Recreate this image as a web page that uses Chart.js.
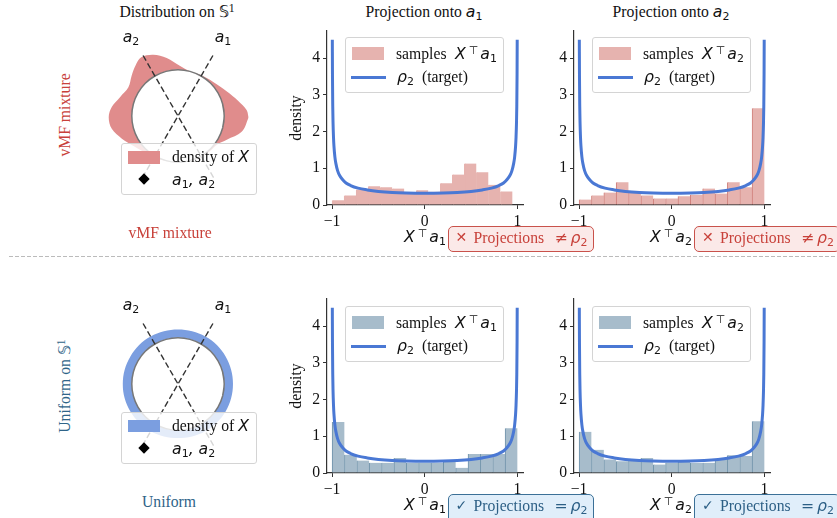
<!DOCTYPE html>
<html>
<head>
<meta charset="utf-8">
<script src="https://cdn.jsdelivr.net/npm/chart.js@4"></script>
<style>
  html, body { margin: 0; padding: 0; background: #fff; }
  #page { position: relative; width: 837px; height: 518px; overflow: hidden; font-family: "Liberation Serif", serif; font-size: 15.7px; color: #111; }
  #page canvas { position: absolute; }
  .t { position: absolute; white-space: nowrap; line-height: 1; }
  .c { transform: translateX(-50%); }
  .v { transform: translate(-50%, -50%) rotate(-90deg); }
  .m { font-family: "DejaVu Sans", sans-serif; font-style: italic; }
  .m sub { font-size: 70%; font-style: normal; vertical-align: -0.25em; line-height: 0; }
  .m sup { font-size: 70%; font-style: normal; vertical-align: 0.42em; line-height: 0; margin: 0 2px 0 3px; }
  .box { position: absolute; box-sizing: border-box; background: rgba(255,255,255,0.8); border: 1px solid #d4d4d4; border-radius: 3px; }
  .note { position: absolute; box-sizing: border-box; border-radius: 5px; border: 1px solid; white-space: nowrap; line-height: 21px; }
  .note span { position: absolute; top: 0; }
  .note.bad { background: #fbe9e8; border-color: #c9524b; color: #c8413a; }
  .note.good { background: #e0eefa; border-color: #3b7097; color: #2c5f85; }
  .swatch { position: absolute; }
  #sep { position: absolute; left: 9px; top: 256px; width: 828px; height: 1px; background: repeating-linear-gradient(90deg, #bbb 0 4px, transparent 4px 6px); }
</style>
</head>
<body>
<div id="page"></div>
<script>
// histogram heights, 15 bins per panel
const vmfA1 = [0.13, 0.26, 0.42, 0.51, 0.48, 0.45, 0.34, 0.40, 0.36, 0.59, 0.83, 1.13, 0.89, 0.55, 0.37];
const vmfA2 = [0.15, 0.26, 0.34, 0.62, 0.33, 0.26, 0.18, 0.18, 0.24, 0.28, 0.45, 0.31, 0.62, 0.48, 2.63];
const uniA1 = [1.39, 0.50, 0.34, 0.28, 0.28, 0.41, 0.28, 0.28, 0.28, 0.30, 0.14, 0.52, 0.52, 0.52, 1.22];
const uniA2 = [1.12, 0.63, 0.37, 0.32, 0.34, 0.41, 0.23, 0.28, 0.30, 0.27, 0.28, 0.37, 0.48, 0.46, 1.41];
// sample range of each histogram
const vmfA1Range = [-1, 0.946];
const fullRange = [-1, 1];

// target density curve
const rhoX = [-0.9975, -0.996, -0.993, -0.99, -0.985, -0.98, -0.97, -0.96, -0.94, -0.92, -0.89, -0.85, -0.8, -0.72, -0.62, -0.5, -0.35, -0.2, 0, 0.2, 0.35, 0.5, 0.62, 0.72, 0.8, 0.85, 0.89, 0.92, 0.94, 0.96, 0.97, 0.98, 0.985, 0.99, 0.993, 0.996, 0.9975];
const rhoY = [4.5, 3.56, 2.69, 2.26, 1.85, 1.6, 1.31, 1.14, 0.93, 0.81, 0.7, 0.6, 0.53, 0.46, 0.41, 0.37, 0.34, 0.325, 0.318, 0.325, 0.34, 0.37, 0.41, 0.46, 0.53, 0.6, 0.7, 0.81, 0.93, 1.14, 1.31, 1.6, 1.85, 2.26, 2.69, 3.56, 4.5];

const xTickValues = [-1, 0, 1];
const yTickValues = [0, 1, 2, 3, 4];

// polar outline of the density on the circle (degrees, radius in circle units)
const blobAngles = [0, 5, 14, 27, 44, 62, 75, 88, 101, 112, 122, 130, 139, 150, 162, 172, 181, 191, 202, 214, 225, 240, 255, 270, 285, 300, 315, 324, 334, 346, 358];
const blobRadii = [1.52, 1.49, 1.345, 1.18, 1.06, 1.015, 1.005, 1.09, 1.28, 1.43, 1.5, 1.43, 1.33, 1.24, 1.32, 1.445, 1.5, 1.46, 1.31, 1.16, 1.08, 1.03, 1.01, 1.005, 1.01, 1.02, 1.03, 1.05, 1.175, 1.42, 1.52];
const ringAngles = [0, 15, 30, 45, 60, 75, 90, 105, 120, 135, 150, 165, 180, 195, 210, 225, 240, 255, 270, 285, 300, 315, 330, 345];
const ringRadii = [1.19, 1.19, 1.19, 1.19, 1.185, 1.18, 1.18, 1.18, 1.185, 1.19, 1.19, 1.195, 1.195, 1.195, 1.19, 1.185, 1.18, 1.175, 1.17, 1.175, 1.18, 1.185, 1.19, 1.19];
const circleAngles = [0, 15, 30, 45, 60, 75, 90, 105, 120, 135, 150, 165, 180, 195, 210, 225, 240, 255, 270, 285, 300, 315, 330, 345];
const circleRadii = [1, 1, 1, 1, 1, 1, 1, 1, 1, 1, 1, 1, 1, 1, 1, 1, 1, 1, 1, 1, 1, 1, 1, 1];
const lineAngles = [60, 120];
const lineLength = 1.54;

const page = document.getElementById("page");
const SERIF = "Liberation Serif";
const BLUE = "#4a78d4";

function addText(html, x, y, cls, color) {
  const el = document.createElement("div");
  el.className = "t " + (cls || "");
  el.style.left = x + "px";
  el.style.top = y + "px";
  if (color) el.style.color = color;
  el.innerHTML = html;
  page.appendChild(el);
  return el;
}

function addCanvas(x, y, w, h) {
  const c = document.createElement("canvas");
  c.width = w;
  c.height = h;
  c.style.left = x + "px";
  c.style.top = y + "px";
  page.appendChild(c);
  return c;
}

// closed outline; overlaps two points so the spline has no kink at the seam
function polar(angles, radii) {
  const pts = angles.map((a, i) => ({
    x: radii[i] * Math.cos((a * Math.PI) / 180),
    y: radii[i] * Math.sin((a * Math.PI) / 180),
  }));
  return [pts[pts.length - 1], ...pts, pts[0], pts[1]];
}

function binCentres(range, n) {
  const w = (range[1] - range[0]) / n;
  return Array.from({ length: n }, (_, i) => range[0] + (i + 0.5) * w);
}

// one histogram panel: axL/axT is the top left of the plot area
function histPanel(axL, axT, values, range, fill, edge, showTitle) {
  const centres = binCentres(range, values.length);
  new Chart(addCanvas(axL - 40, axT - 6, 240, 212), {
    data: {
      datasets: [
        {
          type: "line",
          order: 1,
          data: rhoX.map((x, i) => ({ x: x, y: rhoY[i] })),
          borderColor: BLUE,
          borderWidth: 3,
          pointRadius: 0,
          fill: false,
          cubicInterpolationMode: "monotone",
        },
        {
          type: "bar",
          order: 2,
          data: values.map((v, i) => ({ x: centres[i], y: v })),
          backgroundColor: fill,
          borderColor: edge,
          borderWidth: { left: 1, right: 0, top: 0, bottom: 0 },
          borderSkipped: false,
          barPercentage: 1,
          categoryPercentage: 1,
        },
      ],
    },
    options: {
      responsive: false,
      animation: false,
      layout: { padding: { top: 8, right: 4, left: 0, bottom: 0 } },
      plugins: { legend: { display: false }, tooltip: { enabled: false } },
      scales: {
        x: {
          type: "linear",
          offset: false,
          min: -1.055,
          max: 1.06,
          afterBuildTicks: (s) => { s.ticks = xTickValues.map((v) => ({ value: v })); },
          afterFit: (s) => { s.height = 30; s.paddingLeft = 0; s.paddingRight = 0; },
          grid: { drawOnChartArea: false, offset: false, tickLength: 4, tickColor: "#333" },
          border: { color: "#333", width: 1.2 },
          ticks: {
            color: "#111",
            font: { family: SERIF, size: 15.7 },
            padding: 3,
            maxRotation: 0,
            callback: (v) => (v === -1 ? "\u22121" : String(v)),
          },
        },
        y: {
          type: "linear",
          min: 0,
          max: 4.735,
          afterBuildTicks: (s) => { s.ticks = yTickValues.map((v) => ({ value: v })); },
          afterFit: (s) => { s.width = 40; s.paddingTop = 0; s.paddingBottom = 0; },
          grid: { drawOnChartArea: false, tickLength: 4, tickColor: "#333" },
          border: { color: "#333", width: 1.2 },
          ticks: { color: "#111", font: { family: SERIF, size: 15.7 }, padding: 3 },
          title: { display: showTitle, text: "density", color: "#111", font: { family: SERIF, size: 15.7 }, padding: 0 },
        },
      },
    },
  });
}

// circle panel: cx/cy is the circle centre in page pixels
function diskPanel(cx, cy, outline, fill) {
  const half = 80;
  const unit = 46.2;
  const span = half / unit;
  const a1 = lineAngles[0] * Math.PI / 180;
  const a2 = lineAngles[1] * Math.PI / 180;
  const dashed = (a) => ({
    type: "line",
    order: 1,
    data: [
      { x: -lineLength * Math.cos(a), y: -lineLength * Math.sin(a) },
      { x: lineLength * Math.cos(a), y: lineLength * Math.sin(a) },
    ],
    borderColor: "#333",
    borderWidth: 1.4,
    borderDash: [6, 3],
    pointRadius: 0,
    fill: false,
  });
  new Chart(addCanvas(cx - half, cy - half, half * 2, half * 2), {
    type: "scatter",
    data: {
      datasets: [
        dashed(a1),
        dashed(a2),
        {
          type: "line",
          order: 2,
          data: polar(circleAngles, circleRadii),
          borderColor: "#777",
          borderWidth: 1.5,
          backgroundColor: "#fff",
          fill: "shape",
          tension: 0.4,
          pointRadius: 0,
        },
        {
          type: "line",
          order: 3,
          data: outline,
          borderWidth: 0,
          backgroundColor: fill,
          fill: "shape",
          tension: 0.35,
          pointRadius: 0,
        },
      ],
    },
    options: {
      responsive: false,
      animation: false,
      plugins: { legend: { display: false }, tooltip: { enabled: false } },
      scales: {
        x: { type: "linear", display: false, min: -span, max: span },
        y: { type: "linear", display: false, min: -span, max: span },
      },
    },
  });
}

function histLegend(x, y, fill, sub) {
  const box = document.createElement("div");
  box.className = "box";
  box.style.cssText = `left:${x}px;top:${y}px;width:159px;height:56px`;
  box.innerHTML =
    `<div class="swatch" style="left:6px;top:9px;width:32px;height:12.5px;background:${fill}"></div>` +
    `<div class="swatch" style="left:5px;top:38px;width:35px;height:3px;background:${BLUE}"></div>`;
  page.appendChild(box);
  addText(`samples`, x + 51, y + 9);
  addText(`<span class="m">X<sup>\u22a4</sup>a<sub>${sub}</sub></span>`, x + 110, y + 9);
  addText(`<span class="m">\u03c1<sub>2</sub></span>`, x + 52, y + 32);
  addText(`(target)`, x + 77, y + 32);
}

function diskLegend(x, y, fill) {
  const box = document.createElement("div");
  box.className = "box";
  box.style.cssText = `left:${x}px;top:${y}px;width:136px;height:52px`;
  box.innerHTML =
    `<div class="swatch" style="left:6px;top:7px;width:32px;height:12.5px;background:${fill}"></div>` +
    `<div class="swatch" style="left:18px;top:31px;width:8px;height:8px;background:#000;transform:rotate(45deg)"></div>`;
  page.appendChild(box);
  addText(`density of <span class="m">X</span>`, x + 51, y + 6);
  addText(`<span class="m">a<sub>1</sub>, a<sub>2</sub></span>`, x + 51, y + 29);
}

function note(x, y, w, h, cls, mark, rel) {
  const el = document.createElement("div");
  el.className = "note " + cls;
  el.style.cssText = `left:${x}px;top:${y}px;width:${w}px;height:${h}px`;
  el.innerHTML =
    `<span style="left:7px;font-family:'DejaVu Sans';font-size:14px">${mark}</span>` +
    `<span style="left:25px">Projections</span>` +
    `<span style="left:106px;font-family:'DejaVu Sans'">${rel}</span>` +
    `<span class="m" style="left:122px">\u03c1<sub>2</sub></span>`;
  page.appendChild(el);
}

const RED = "#c8413a";
const NAVY = "#2f6488";
const S1 = `\ud835\udd4a<sup style="font-size:75%;line-height:0;vertical-align:0.4em">1</sup>`;

const sep = document.createElement("div");
sep.id = "sep";
page.appendChild(sep);

// top row
diskPanel(178, 116, polar(blobAngles, blobRadii), "#e08c8c");
histPanel(327, 29, vmfA1, vmfA1Range, "#e6b3af", "#e6b3af", true);
histPanel(573.5, 29, vmfA2, fullRange, "#e6b3af", "#cf7f7a", false);
// bottom row
diskPanel(178, 384, polar(ringAngles, ringRadii), "#7b9ee0");
histPanel(327, 297, uniA1, fullRange, "#a7bccb", "#6f92aa", true);
histPanel(573.5, 297, uniA2, fullRange, "#a7bccb", "#6f92aa", false);

addText(`Distribution on ${S1}`, 177, 4, "c");
addText(`Projection onto <span class="m">a<sub>1</sub></span>`, 424, 4, "c");
addText(`Projection onto <span class="m">a<sub>2</sub></span>`, 671, 4, "c");

[0, 268].forEach((dy) => {
  addText(`<span class="m">a<sub>2</sub></span>`, 131, 29 + dy, "c");
  addText(`<span class="m">a<sub>1</sub></span>`, 223, 29 + dy, "c");
});

addText("vMF mixture", 65, 115, "v", RED);
addText("vMF mixture", 170, 225, "c", RED);
addText(`Uniform on ${S1}`, 65, 386, "v", NAVY);
addText("Uniform", 169, 494, "c", NAVY);

histLegend(345, 37, "#e6b3af", 1);
histLegend(592, 37, "#e6b3af", 2);
histLegend(345, 306, "#a7bccb", 1);
histLegend(592, 306, "#a7bccb", 2);
diskLegend(121, 143, "#e08c8c");
diskLegend(121, 411.5, "#7b9ee0");

[0, 268].forEach((dy) => {
  addText(`<span class="m">X<sup>\u22a4</sup>a<sub>1</sub></span>`, 404, 229 + dy);
  addText(`<span class="m">X<sup>\u22a4</sup>a<sub>2</sub></span>`, 650, 229 + dy);
});

note(447.5, 226, 146, 26, "bad", "\u2715", "\u2260");
note(694, 226, 146, 26, "bad", "\u2715", "\u2260");
note(447.5, 494, 146, 30, "good", "\u2713", "=");
note(694, 494, 146, 30, "good", "\u2713", "=");
</script>
</body>
</html>
